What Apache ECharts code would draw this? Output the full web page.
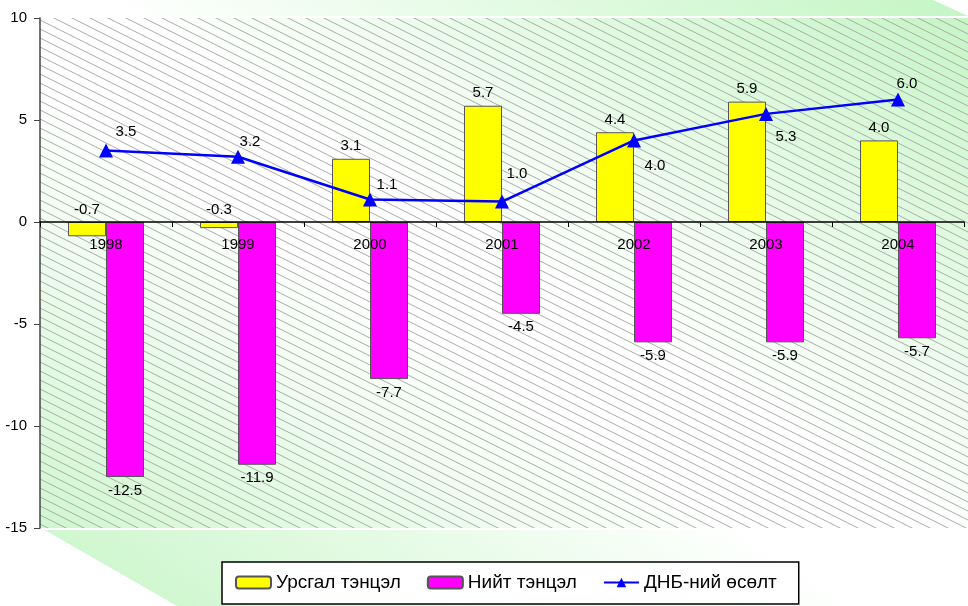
<!DOCTYPE html>
<html>
<head>
<meta charset="utf-8">
<script src="https://cdn.jsdelivr.net/npm/echarts@6/dist/echarts.min.js"></script>
<style>
  html, body { margin: 0; padding: 0; background: #fff; }
  #chart {
    width: 968px; height: 606px;
    background: linear-gradient(to bottom left, #c4f5c4 0%, #ffffff 45%, #ffffff 55%, #c4f5c4 100%);
  }
</style>
</head>
<body>
<div id="chart"></div>
<script>
var years = ['1998', '1999', '2000', '2001', '2002', '2003', '2004'];
var currentBalance = [-0.7, -0.3, 3.1, 5.7, 4.4, 5.9, 4.0];
var totalBalance = [-12.5, -11.9, -7.7, -4.5, -5.9, -5.9, -5.7];
var gdpGrowth = [3.5, 3.2, 1.1, 1.0, 4.0, 5.3, 6.0];
// label offsets for the growth line (pixels), like Excel placed them
var gdpLabelOffset = [[20, -19], [12, -15], [17, -15], [15, -28], [21, 25], [20, 23], [9, -16]];

var FONT = '"Liberation Sans", Arial, sans-serif';

// diagonal hatching for the plot wall
var hatch = document.createElement('canvas');
hatch.width = 18;
hatch.height = 9;
var ctx = hatch.getContext('2d');
ctx.strokeStyle = '#aaaaaa';
ctx.lineWidth = 1;
for (var k = -1; k <= 1; k++) {
  ctx.beginPath();
  ctx.moveTo(-2, -1 + 9 * k);
  ctx.lineTo(20, 10 + 9 * k);
  ctx.stroke();
}

var myChart = echarts.init(document.getElementById('chart'));
myChart.setOption({
  backgroundColor: 'transparent',
  animation: false,
  textStyle: { fontFamily: FONT },
  graphic: [
    { type: 'rect', z: -10, silent: true, shape: { x: 0, y: 0, width: 40, height: 606 }, style: { fill: '#fff' } },
    { type: 'polygon', z: -10, silent: true, shape: { points: [[933, 0], [968, 0], [968, 16]] }, style: { fill: '#fff' } },
    { type: 'polygon', z: -10, silent: true, shape: { points: [[0, 529], [43, 529], [177, 606], [0, 606]] }, style: { fill: '#fff' } },
    { type: 'rect', z: -10, silent: true, shape: { x: 40, y: 16, width: 928, height: 2 }, style: { fill: '#fff' } },
    { type: 'rect', z: -10, silent: true, shape: { x: 40, y: 528, width: 928, height: 2 }, style: { fill: '#fff' } },
    { type: 'rect', z: -9, silent: true, shape: { x: 40, y: 18, width: 928, height: 510 }, style: { fill: { type: 'pattern', image: hatch, repeat: 'repeat' } } }
  ],
  grid: { left: 40, right: 4, top: 18, bottom: 78 },
  legend: {
    left: 222,
    top: 562,
    padding: [11, 22, 12, 13],
    itemGap: 26,
    itemWidth: 35,
    itemHeight: 12,
    backgroundColor: '#fff',
    borderColor: '#000',
    borderWidth: 1.5,
    textStyle: { fontSize: 19, color: '#000', fontFamily: FONT },
    data: ['Урсгал тэнцэл', 'Нийт тэнцэл', 'ДНБ-ний өсөлт']
  },
  xAxis: {
    type: 'category',
    data: years,
    position: 'bottom',
    offset: -306,
    z: 10,
    axisLine: { onZero: false, lineStyle: { color: '#000', width: 1.5 } },
    axisTick: { show: true, length: 5, lineStyle: { color: '#000' } },
    axisLabel: { color: '#000', fontSize: 15, margin: 15 },
    splitLine: { show: false }
  },
  yAxis: {
    type: 'value',
    min: -15,
    max: 10,
    interval: 5,
    axisLine: { show: true, lineStyle: { color: '#444', width: 1.5 } },
    axisTick: { show: true, length: 6, lineStyle: { color: '#444' } },
    axisLabel: { color: '#000', fontSize: 15, margin: 13 },
    splitLine: { show: false }
  },
  series: [
    {
      name: 'Урсгал тэнцэл',
      type: 'bar',
      data: currentBalance,
      barWidth: 38,
      barGap: '0%',
      itemStyle: { color: '#ffff00', borderColor: '#555', borderWidth: 1 },
      label: {
        show: true, position: 'top', distance: 5, color: '#000', fontSize: 15,
        formatter: function (p) { return p.value.toFixed(1); }
      }
    },
    {
      name: 'Нийт тэнцэл',
      type: 'bar',
      data: totalBalance,
      barWidth: 38,
      itemStyle: { color: '#ff00ff', borderColor: '#555', borderWidth: 1 },
      label: {
        show: true, position: 'bottom', distance: 6, color: '#000', fontSize: 15,
        formatter: function (p) { return p.value.toFixed(1); }
      }
    },
    {
      name: 'ДНБ-ний өсөлт',
      type: 'line',
      data: gdpGrowth.map(function (v, i) {
        return { value: v, label: { offset: gdpLabelOffset[i] } };
      }),
      z: 5,
      symbol: 'triangle',
      symbolSize: 14,
      lineStyle: { color: '#0000ff', width: 2.5 },
      itemStyle: { color: '#0000ff' },
      label: {
        show: true, position: 'inside', color: '#000', fontSize: 15,
        formatter: function (p) { return p.value.toFixed(1); }
      }
    }
  ]
});
</script>
</body>
</html>
